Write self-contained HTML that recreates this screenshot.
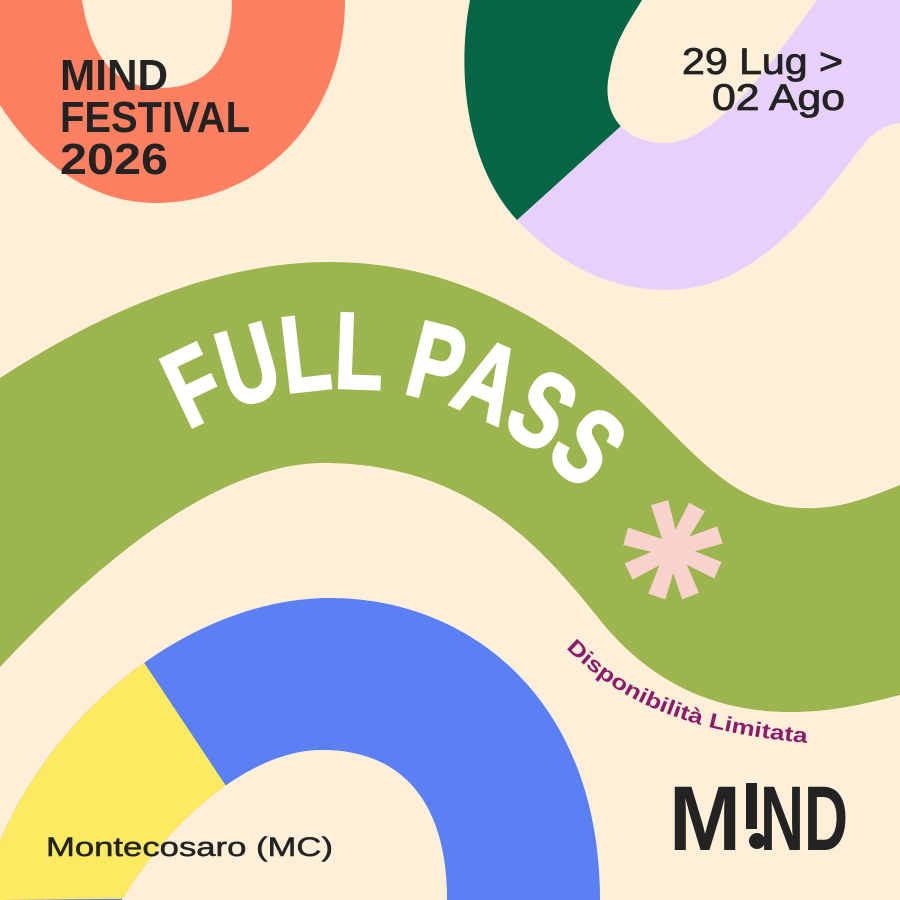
<!DOCTYPE html>
<html><head><meta charset="utf-8"><style>
html,body{margin:0;padding:0;background:#FDEFD8;}
svg{display:block;}
</style></head><body>
<svg width="900" height="900" viewBox="0 0 900 900" xmlns="http://www.w3.org/2000/svg">
<defs>
<clipPath id="ring"><path d="M 470 0 C 455 80 470 170 517 220 C 560 265 610 290 667 290 C 760 290 820 200 867 140 C 880 128 890 124 900 123 L 900 0 L 817 0 C 780 50 720 143 665 143 C 620 143 600 110 610 70 C 615 40 630 20 642 0 Z"/></clipPath>
<clipPath id="arch"><path clip-rule="evenodd" fill-rule="evenodd" d="M 600 900 C 600 700 470 598 330 598 C 200 598 60 700 0 841 L 0 900 Z M 447 900 C 447 800 400 750 322 750 C 250 750 170 820 122 900 Z"/></clipPath>
<path id="arc" d="M 188 430 A 318 318 0 0 1 600 515"/>
<path id="arc2" d="M 566 648 C 620 702 690 738 850 746"/>
</defs>
<rect width="900" height="900" fill="#FDEFD8"/>
<path fill="#FF8060" fill-rule="evenodd" d="M 345 0 C 345 120 260 203 155 203 C 90 203 35 160 0 105 L 0 0 Z M 82 0 C 90 50 110 88 160 88 C 215 88 232 50 232 0 Z"/>
<g clip-path="url(#ring)">
<rect x="400" y="0" width="500" height="300" fill="#E8D0FC"/>
<polygon points="400,0 760,0 622,125 517,220 400,330" fill="#046645"/>
</g>
<path fill="#9CB54E" d="M 0 378 C 120 300 230 262 330 262 C 430 262 520 300 600 365 C 680 430 720 505 800 508 C 840 510 870 497 900 485 L 900 695 C 860 705 830 712 790 712 C 700 712 640 670 600 620 C 540 545 470 466 330 463 C 220 460 100 560 0 667 Z"/>
<g clip-path="url(#arch)">
<rect x="0" y="580" width="620" height="320" fill="#5A80F4"/>
<polygon points="42,509 232,795 300,897 0,900 0,509" fill="#FCEB60"/>
</g>
<path fill="#FDEFD8" d="M 447 900 C 447 800 400 750 322 750 C 250 750 170 820 122 900 Z"/>
<g transform="translate(673,550)" fill="#F8D2CC">
<polygon points="-7,0 7,0 4,-50 -14,-48" transform="rotate(-10)"/>
<polygon points="-7,0 7,0 4,-50 -14,-48" transform="rotate(35)"/>
<polygon points="-7,0 7,0 4,-50 -14,-48" transform="rotate(78)"/>
<polygon points="-7,0 7,0 4,-50 -14,-48" transform="rotate(120)"/>
<polygon points="-7,0 7,0 4,-50 -14,-48" transform="rotate(165)"/>
<polygon points="-7,0 7,0 4,-50 -14,-48" transform="rotate(205)"/>
<polygon points="-7,0 7,0 4,-50 -14,-48" transform="rotate(250)"/>
<polygon points="-7,0 7,0 4,-50 -14,-48" transform="rotate(292)"/>
<circle r="14"/>
</g>
<g font-family="Liberation Sans, sans-serif" fill="#232323">
<text x="60" y="90" font-size="44" font-weight="bold" textLength="108" lengthAdjust="spacingAndGlyphs">MIND</text>
<text x="60" y="132" font-size="44" font-weight="bold" textLength="190" lengthAdjust="spacingAndGlyphs">FESTIVAL</text>
<text x="60" y="174" font-size="44" font-weight="bold" textLength="108" lengthAdjust="spacingAndGlyphs">2026</text>
<text x="682" y="74" font-size="37" stroke="#232323" stroke-width="0.8" textLength="161" lengthAdjust="spacingAndGlyphs">29 Lug &gt;</text>
<text x="712" y="110" font-size="37" stroke="#232323" stroke-width="0.8" textLength="133" lengthAdjust="spacingAndGlyphs">02 Ago</text>
<text x="46" y="856" font-size="27" stroke="#232323" stroke-width="0.5" textLength="287" lengthAdjust="spacingAndGlyphs">Montecosaro (MC)</text>
</g>
<text font-family="Liberation Sans, sans-serif" font-size="108" font-weight="bold" fill="#ffffff" stroke="#ffffff" stroke-width="3"><textPath href="#arc" textLength="430" lengthAdjust="spacingAndGlyphs">FULL PASS</textPath></text>
<text font-family="Liberation Sans, sans-serif" font-size="21" font-weight="bold" fill="#8A1C6C"><textPath href="#arc2" textLength="265" lengthAdjust="spacingAndGlyphs">Disponibilità Limitata</textPath></text>
<g fill="#232323" font-family="Liberation Sans, sans-serif" font-weight="bold">
<text x="669" y="850" font-size="92" textLength="72" lengthAdjust="spacingAndGlyphs">M</text>
<rect x="746" y="783" width="11" height="46" />
<circle cx="757" cy="841" r="8"/>
<text x="760" y="850" font-size="92" textLength="88" lengthAdjust="spacingAndGlyphs">ND</text>
</g>
</svg>
</body></html>
